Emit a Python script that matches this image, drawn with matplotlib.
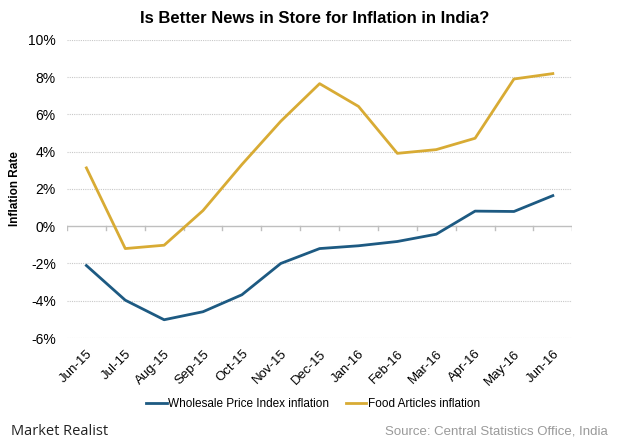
import matplotlib
matplotlib.use("Agg")
import matplotlib.pyplot as plt
import numpy as np

plt.rcParams['font.family'] = ['Liberation Sans', 'DejaVu Sans']

months = ['Jun-15', 'Jul-15', 'Aug-15', 'Sep-15', 'Oct-15', 'Nov-15', 'Dec-15',
          'Jan-16', 'Feb-16', 'Mar-16', 'Apr-16', 'May-16', 'Jun-16']
wpi = [-2.11, -3.97, -5.02, -4.59, -3.68, -2.0, -1.2, -1.05, -0.82, -0.43, 0.81, 0.79, 1.64]
food = [3.13, -1.2, -1.02, 0.84, 3.31, 5.63, 7.65, 6.43, 3.91, 4.11, 4.72, 7.9, 8.19]
yticks = [-6, -4, -2, 0, 2, 4, 6, 8, 10]

blue = '#1d5a82'
gold = '#d8ab34'

fig = plt.figure(figsize=(6.2, 4.43), dpi=100)
ax = fig.add_axes([0.108, 0.237, 0.815, 0.673])

x = np.arange(len(months))
ax.plot(x, wpi, color=blue, lw=2, label='Wholesale Price Index inflation')
ax.plot(x, food, color=gold, lw=2, label='Food Articles inflation')

ax.set_xlim(-0.5, len(months) - 0.5)
ax.set_ylim(-6, 10)
ax.set_yticks(yticks)
ax.set_yticklabels([f'{v}%' for v in yticks], fontsize=10)
for v in yticks:
    if v == 0:
        ax.axhline(0, color='#bfbfbf', lw=1, zorder=1)
    else:
        ax.axhline(v, color='#c8c8c8', lw=0.8, ls=(0, (1, 1)), zorder=0)

# small ticks on the zero line at category boundaries
for b in np.arange(-0.5, len(months), 1):
    ax.plot([b, b], [0, -0.2], color='#bfbfbf', lw=1, zorder=1)

ax.set_xticks(x)
ax.set_xticklabels(months, rotation=45, ha='right', rotation_mode='anchor', fontsize=9.5)
ax.tick_params(axis='x', length=0, pad=7)
ax.tick_params(axis='y', length=0, pad=8)
for s in ax.spines.values():
    s.set_visible(False)

ax.set_ylabel('Inflation Rate', fontsize=8.5, fontweight='bold', labelpad=5)

fig.text(0.508, 0.958, 'Is Better News in Store for Inflation in India?', ha='center',
         va='center', fontsize=12, fontweight='bold')

fig.legend(loc='center', bbox_to_anchor=(0.505, 0.087), ncol=2, frameon=False,
           fontsize=8.5, handlelength=1.7, handletextpad=0.1, columnspacing=1.5)

fig.text(0.018, 0.027, 'Market Realist', fontsize=10.5, color='#222222', va='center',
         family=['Open Sans', 'DejaVu Sans'])
fig.text(0.98, 0.025, 'Source: Central Statistics Office, India', fontsize=9.5,
         color='#9a9a9a', ha='right', va='center')

fig.savefig('out.png', dpi=100)
